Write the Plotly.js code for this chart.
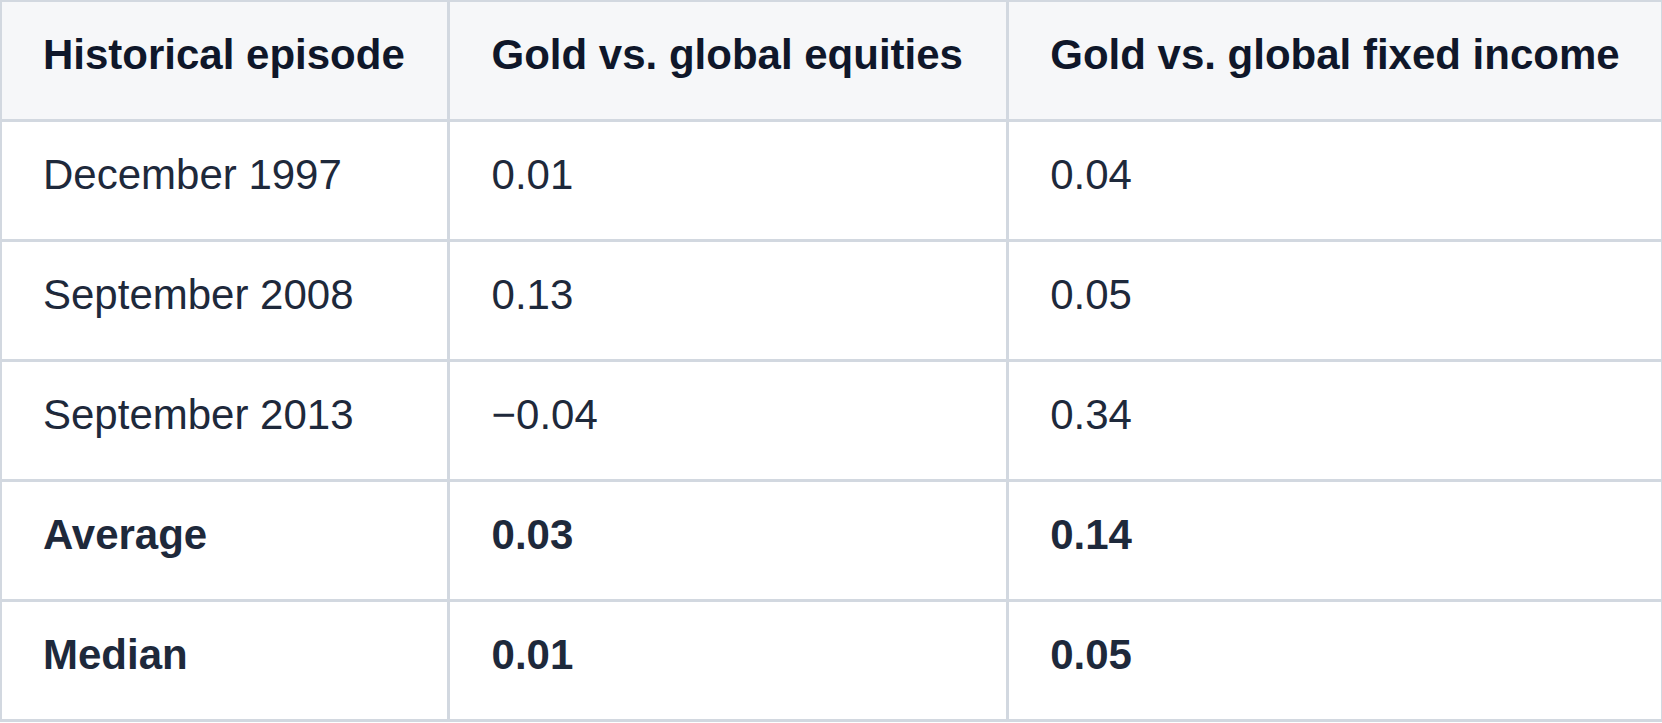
<!DOCTYPE html>
<html>
<head>
<meta charset="utf-8">
<script src="https://cdn.plot.ly/plotly-3.0.1.min.js"></script>
<style>
html,body{margin:0;padding:0;background:#ffffff;}
#chart{width:1662px;height:723px;}
</style>
</head>
<body>
<div id="chart"></div>
<script>
var headers = ["Historical episode", "Gold vs. global equities", "Gold vs. global fixed income"];
var episodes = ["December 1997", "September 2008", "September 2013", "Average", "Median"];
var vsEquities = ["0.01", "0.13", "\u22120.04", "0.03", "0.01"];
var vsFixedIncome = ["0.04", "0.05", "0.34", "0.14", "0.05"];
var boldRows = [false, false, false, true, true];

var BASE = 28;   // spacer font size (controls vertical offset)
var SIZE = 42;   // visible text size
function cell(txt, bold) {
  var inner = bold ? "<b>" + txt + "</b>" : txt;
  return "\u00A0<br><span style=\"font-size:35px\">\u2003</span>" +
         "<span style=\"font-size:" + SIZE + "px\">" + inner + "</span>";
}
function fmt(col) {
  return col.map(function (v, i) { return cell(v, boldRows[i]); });
}

var trace = {
  type: "table",
  domain: {x: [0, 1], y: [0, 1]},
  columnwidth: [448, 558, 654],
  header: {
    values: headers.map(function (h) { return cell(h, true); }),
    align: "left",
    height: 120,
    fill: {color: "#f6f7f9"},
    line: {color: "#d2d8e0", width: 3},
    font: {family: "Liberation Sans, Arial, sans-serif", size: BASE, color: "#0f172a"}
  },
  cells: {
    values: [fmt(episodes), fmt(vsEquities), fmt(vsFixedIncome)],
    align: "left",
    height: 120,
    fill: {color: "#ffffff"},
    line: {color: "#d2d8e0", width: 3},
    font: {family: "Liberation Sans, Arial, sans-serif", size: BASE, color: "#1e293b"}
  }
};

var layout = {
  width: 1662,
  height: 723,
  margin: {l: 0, r: 0, t: 0, b: 0},
  paper_bgcolor: "#ffffff"
};

Plotly.newPlot("chart", [trace], layout, {displayModeBar: false, staticPlot: true});
</script>
</body>
</html>
